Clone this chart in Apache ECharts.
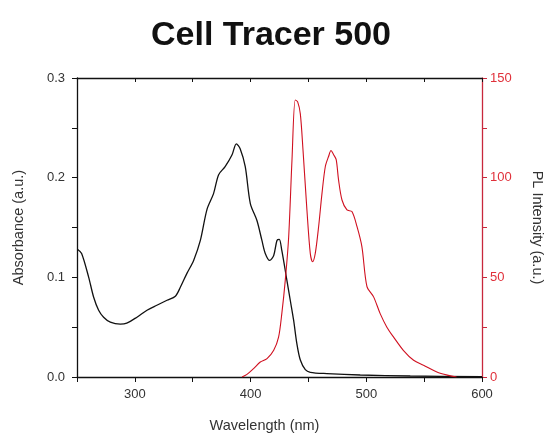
<!DOCTYPE html>
<html>
<head>
<meta charset="utf-8">
<script src="https://cdn.jsdelivr.net/npm/echarts@6/dist/echarts.min.js"></script>
<style>html,body{margin:0;padding:0;background:#fff;}#c{width:548px;height:434px;}</style>
</head>
<body>
<div id="c"></div>
<script>
var titleText = 'Cell Tracer 500';
var xName = 'Wavelength (nm)';
var yLeftName = 'Absorbance (a.u.)';
var yRightName = 'PL Intensity (a.u.)';

var absWl  = [250.6,254,260,264.4,268.7,273,278.8,287.4,293,301.8,310.5,319,327.8,335,339.3,345,350.8,356.6,362.3,368,372.4,378,384,387.7,391,395.4,399.8,405.5,409.8,412.7,416.5,420,422.8,424.8,427,431.4,434.3,437.2,440,443,447.3,451.6,466,494.8,538,600];
var absVal = [0.128,0.124,0.1005,0.080,0.067,0.060,0.055,0.053,0.054,0.060,0.067,0.072,0.077,0.081,0.090,0.104,0.117,0.137,0.168,0.184,0.203,0.211,0.223,0.234,0.229,0.211,0.174,0.157,0.137,0.124,0.117,0.122,0.137,0.138,0.127,0.097,0.077,0.057,0.0335,0.017,0.0074,0.0047,0.0034,0.002,0.001,0.0003];

var plWl  = [392.6,396.9,402.6,408.4,414.2,420,424.2,427,430,432.9,435.8,438.6,440.7,443,445.3,448.7,451.6,453.6,455.9,458.8,461.7,464.6,467.4,469.5,471.8,474,476,479,483.3,487.6,492,496.2,500.6,506.3,512,517.8,523.6,532,540.9,549.5,561,571,578];
var plVal = [0,1.3,4.2,7.5,9.2,13.4,20,31.8,48.6,70,109,139,138,132,114,83.8,62,57.8,62,75.4,92,105.6,110.6,113.6,111.5,109,99,88.8,83.8,83,75.4,65.4,45.3,40.2,31.8,25,20,13.4,8.4,5.9,2.5,0.8,0];

var xTicks = [300,400,500,600];
var yLeftTicks = [0,0.1,0.2,0.3];
var yRightTicks = [0,50,100,150];

function pairs(a,b){return a.map(function(v,i){return [v,b[i]];});}

var font = 'Liberation Sans, Arial, sans-serif';
var red = '#d01020';
var redAxis = '#c8283c';
var chart = echarts.init(document.getElementById('c'));
chart.setOption({
  animation:false,
  title:{text:titleText,left:266,textAlign:'center',top:14,textStyle:{fontFamily:font,fontWeight:'bold',fontSize:34,color:'#111'}},
  grid:{left:77,right:66,top:78,bottom:57,containLabel:false,outerBoundsMode:'none'},
  xAxis:[{
    type:'value',min:250,max:600,interval:50,position:'bottom',
    name:xName,nameLocation:'middle',nameGap:41,
    nameTextStyle:{fontFamily:font,fontSize:14.5,color:'#333',padding:[0,30,0,0]},
    axisLine:{onZero:false,lineStyle:{color:'#111',width:1.3}},
    axisTick:{inside:false,length:5,lineStyle:{color:'#111'}},
    axisLabel:{fontFamily:font,fontSize:13,color:'#333',margin:11,formatter:function(v){return xTicks.indexOf(v)>=0?String(v):'';}},
    splitLine:{show:false}
  },{
    type:'value',min:250,max:600,interval:50,position:'top',
    axisLine:{onZero:false,lineStyle:{color:'#111',width:1.3}},
    axisTick:{inside:true,length:4,lineStyle:{color:'#111'}},
    axisLabel:{show:false},splitLine:{show:false}
  }],
  yAxis:[{
    type:'value',min:0,max:0.3,interval:0.05,position:'left',
    name:yLeftName,nameLocation:'middle',nameGap:51,
    nameTextStyle:{fontFamily:font,fontSize:14.5,color:'#333'},
    axisLine:{onZero:false,lineStyle:{color:'#111',width:1.3}},
    axisTick:{inside:false,length:5,lineStyle:{color:'#111'}},
    axisLabel:{fontFamily:font,fontSize:13,color:'#333',margin:12,formatter:function(v){var r=Math.round(v*100)/100;return yLeftTicks.indexOf(r)>=0?r.toFixed(1):'';}},
    splitLine:{show:false}
  },{
    type:'value',min:0,max:150,interval:25,position:'right',
    name:yRightName,nameLocation:'middle',nameGap:47,nameRotate:-90,
    nameTextStyle:{fontFamily:font,fontSize:14.5,color:'#333'},
    axisLine:{onZero:false,lineStyle:{color:redAxis,width:1.3}},
    axisTick:{inside:false,length:5,lineStyle:{color:redAxis}},
    axisLabel:{fontFamily:font,fontSize:13,color:'#e0303a',margin:8,formatter:function(v){return yRightTicks.indexOf(v)>=0?String(v):'';}},
    splitLine:{show:false}
  }],
  series:[{
    type:'line',xAxisIndex:0,yAxisIndex:0,data:pairs(absWl,absVal),
    showSymbol:false,smooth:0.3,lineStyle:{color:'#111',width:1.3}
  },{
    type:'line',xAxisIndex:0,yAxisIndex:1,data:pairs(plWl,plVal),
    showSymbol:false,smooth:0.3,lineStyle:{color:red,width:1.1}
  }]
});
</script>
</body>
</html>
